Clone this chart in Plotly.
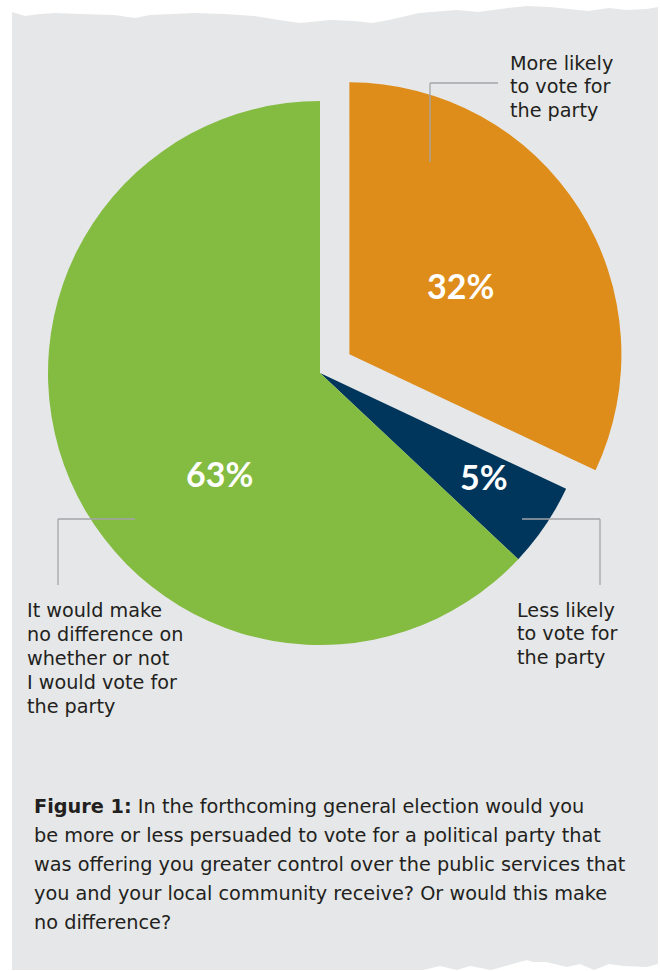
import plotly.graph_objects as go

# ---- data -------------------------------------------------------------
categories = [
    "More likely to vote for the party",
    "Less likely to vote for the party",
    "It would make no difference on whether or not I would vote for the party",
]
shares = [32, 5, 63]
slice_colors = ["#de8d1a", "#00365c", "#84bb41"]
pulls = [0.128, 0, 0]

# category labels as wrapped lines
label_lines = [
    ["More likely", "to vote for", "the party"],
    ["Less likely", "to vote for", "the party"],
    ["It would make", "no difference on", "whether or not", "I would vote for", "the party"],
]

caption_lines = [
    "<b>Figure 1:</b> In the forthcoming general election would you",
    "be more or less persuaded to vote for a political party that",
    "was offering you greater control over the public services that",
    "you and your local community receive? Or would this make",
    "no difference?",
]

# ---- page geometry (pixels) -------------------------------------------
W, H = 660, 971
CX, CY, R = 320, 373, 272
BG = "#e6e7e8"
INK = "#231f20"
LEADER = "#a3a5a8"
FONT = "DejaVu Sans"


def px(x):
    return x / W


def py(y):
    return 1 - y / H


# pie domain so that the unpulled radius is R (plotly shrinks by 1+maxPull)
half = R * (1 + max(pulls))
dom_x = [px(CX - half), px(CX + half)]
dom_y = [py(CY + half), py(CY - half)]

fig = go.Figure(
    go.Pie(
        labels=categories,
        values=shares,
        sort=False,
        direction="clockwise",
        rotation=0,
        pull=pulls,
        marker=dict(colors=slice_colors, line=dict(width=0)),
        textinfo="none",
        hoverinfo="label+percent",
        showlegend=False,
        domain=dict(x=dom_x, y=dom_y),
    )
)

# ---- torn-paper card behind the chart ----------------------------------
top_edge = [(12, 12), (25, 16), (40, 14), (55, 13), (80, 14), (114, 15), (135, 18),
            (150, 15), (195, 13), (224, 14), (254, 16), (279, 20), (300, 23),
            (330, 20), (355, 21), (372, 23), (389, 20), (419, 13), (457, 10),
            (478, 12), (508, 8), (527, 6), (550, 7), (588, 11), (609, 8),
            (626, 10), (647, 9), (658, 7)]
bottom_edge = [(658, 964), (647, 967), (624, 966), (609, 964), (594, 970),
               (580, 964), (567, 967), (546, 962), (533, 962), (527, 960),
               (516, 963), (491, 970), (470, 966), (457, 970), (440, 966),
               (423, 970), (12, 970)]
pts = top_edge + bottom_edge
path = "M " + " L ".join(f"{px(x):.5f},{py(y):.5f}" for x, y in pts) + " Z"

shapes = [dict(type="path", path=path, xref="paper", yref="paper",
               fillcolor=BG, line=dict(width=0), layer="below")]

# leader lines: (corner, horizontal end, vertical end)
leaders = [
    ((430, 83), 498, 162),
    ((600, 519), 522, 585),
    ((58, 519), 135, 585),
]
for (x0, y0), hx, vy in leaders:
    shapes.append(dict(type="line", xref="paper", yref="paper",
                       x0=px(x0), y0=py(y0), x1=px(hx), y1=py(y0),
                       line=dict(color=LEADER, width=1.3)))
    shapes.append(dict(type="line", xref="paper", yref="paper",
                       x0=px(x0), y0=py(y0), x1=px(x0), y1=py(vy),
                       line=dict(color=LEADER, width=1.3)))

annotations = []


def add_line(text, x, baseline, size, color=INK, anchor="left", family=FONT):
    annotations.append(dict(
        text=text, x=px(x), y=py(baseline - 0.36 * size),
        xref="paper", yref="paper", xanchor=anchor, yanchor="middle",
        showarrow=False, font=dict(family=family, size=size, color=color),
    ))


# category labels: left x, first baseline, line step
label_pos = [(508, 70, 23.5), (515, 617, 23.5), (25, 617, 24.1)]
for lines, (lx, b0, step) in zip(label_lines, label_pos):
    for i, ln in enumerate(lines):
        add_line(ln, lx, b0 + i * step, 19.2)

# value labels inside the slices
value_pos = [(460, 298), (484, 489), (219, 486)]
for v, (vx, vb) in zip(shares, value_pos):
    add_line(f"<b>{v}%</b>", vx, vb, 34, color="white", anchor="center", family="Lato")

# caption
for i, ln in enumerate(caption_lines):
    add_line(ln, 32, 813 + i * 29, 19.3)

fig.update_layout(
    width=W, height=H,
    margin=dict(l=0, r=0, t=0, b=0),
    paper_bgcolor="white",
    plot_bgcolor="white",
    shapes=shapes,
    annotations=annotations,
    font=dict(family=FONT, color=INK),
)

fig.write_html("out.html")
